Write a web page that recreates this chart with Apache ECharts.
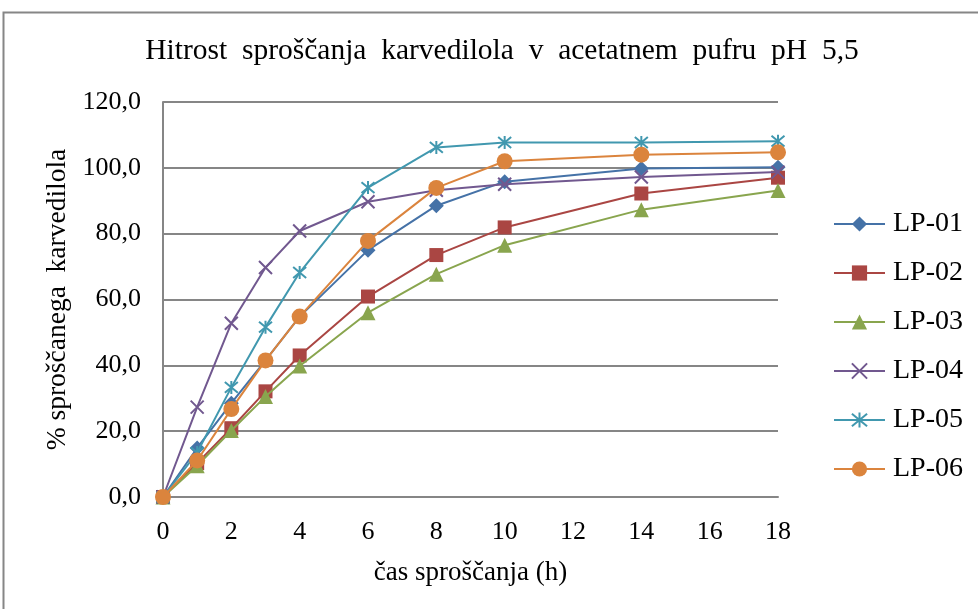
<!DOCTYPE html>
<html>
<head>
<meta charset="utf-8">
<script src="https://cdn.jsdelivr.net/npm/echarts@6/dist/echarts.min.js"></script>
<style>
  html, body { margin: 0; padding: 0; background: #fff; }
  #chart { width: 978px; height: 609px; }
</style>
</head>
<body>
<div id="chart"></div>
<script>
// time points (h)
var hours = [0, 1, 2, 3, 4, 6, 8, 10, 14, 18];
var seriesNames = ['LP-01', 'LP-02', 'LP-03', 'LP-04', 'LP-05', 'LP-06'];
var lp01 = [0, 14.9, 28.5, 41.5, 54.8, 75.0, 88.5, 95.8, 99.8, 100.2];
var lp02 = [0, 10.3, 20.9, 32.1, 43.0, 60.9, 73.5, 81.9, 92.2, 97.0];
var lp03 = [0, 9.5, 20.2, 30.5, 39.8, 56.0, 67.7, 76.5, 87.3, 93.1];
var lp04 = [0, 27.3, 52.8, 69.7, 80.8, 89.7, 93.2, 95.0, 97.2, 98.7];
var lp05 = [0, 13.5, 33.3, 51.6, 68.2, 94.0, 106.2, 107.7, 107.7, 108.1];
var lp06 = [0, 11.1, 26.7, 41.5, 54.8, 77.8, 93.9, 102.0, 104.0, 104.7];

var colors = ['#4572A7', '#AA4643', '#89A54E', '#71588F', '#4198AF', '#DB843D'];
var symbols = [
  'diamond',
  'rect',
  'triangle',
  'path://M0,0L10,10M10,0L0,10',
  'path://M0,0L10,10M10,0L0,10M5,-1L5,11',
  'circle'
];
var sizes = [15, 14, 15, 13, 13, 16];
var allData = [lp01, lp02, lp03, lp04, lp05, lp06];
var font = '"Liberation Serif", "Times New Roman", serif';

var chart = echarts.init(document.getElementById('chart'));

var series = seriesNames.map(function (name, i) {
  var stroke = symbols[i].indexOf('path://') === 0;
  return {
    name: name,
    type: 'line',
    data: hours.map(function (h, j) { return [h, allData[i][j]]; }),
    symbol: symbols[i],
    symbolSize: sizes[i],
    showAllSymbol: true,
    lineStyle: { color: colors[i], width: 2 },
    itemStyle: stroke
      ? { color: 'rgba(0,0,0,0)', borderColor: colors[i], borderWidth: 2 }
      : { color: colors[i], borderWidth: 0 },
    emphasis: { disabled: true },
    z: 2 + i
  };
});

chart.setOption({
  animation: false,
  backgroundColor: '#fff',
  title: {
    text: 'Hitrost  sproščanja  karvedilola  v  acetatnem  pufru  pH  5,5',
    left: 497,
    textAlign: 'center',
    top: 31,
    textStyle: { fontFamily: font, fontSize: 29.5, fontWeight: 'normal', color: '#000' }
  },
  legend: {
    orient: 'vertical',
    left: 833,
    top: 210,
    padding: 0,
    itemWidth: 51,
    itemHeight: 19,
    itemGap: 21,
    data: seriesNames,
    textStyle: { fontFamily: font, fontSize: 28, color: '#000', lineHeight: 26, padding: [0, 0, 0, 3] }
  },
  grid: { left: 163, top: 102, right: 200, bottom: 112, containLabel: false },
  xAxis: {
    type: 'value',
    min: 0,
    max: 18,
    interval: 2,
    name: 'čas sproščanja (h)',
    nameLocation: 'middle',
    nameGap: 62,
    nameTextStyle: { fontFamily: font, fontSize: 27, color: '#000' },
    axisLine: { show: true, lineStyle: { color: '#868686', width: 2 } },
    axisTick: { show: false },
    splitLine: { show: false },
    axisLabel: { fontFamily: font, fontSize: 26, color: '#000', margin: 22 }
  },
  yAxis: {
    type: 'value',
    min: 0,
    max: 120,
    interval: 20,
    name: '% sproščanega  karvedilola',
    nameLocation: 'middle',
    nameGap: 89,
    nameTextStyle: { fontFamily: font, fontSize: 27.5, color: '#000' },
    axisLine: { show: true, lineStyle: { color: '#868686', width: 2 } },
    axisTick: { show: false },
    splitLine: { show: true, lineStyle: { color: '#868686', width: 2 } },
    axisLabel: {
      fontFamily: font, fontSize: 26, color: '#000', margin: 22,
      formatter: function (v) { return v.toFixed(1).replace('.', ','); }
    }
  },
  graphic: [{
    type: 'rect',
    shape: { x: 3.5, y: 12.5, width: 1000, height: 700 },
    style: { fill: 'none', stroke: '#868686', lineWidth: 2 },
    silent: true
  }],
  series: series
});
</script>
</body>
</html>
